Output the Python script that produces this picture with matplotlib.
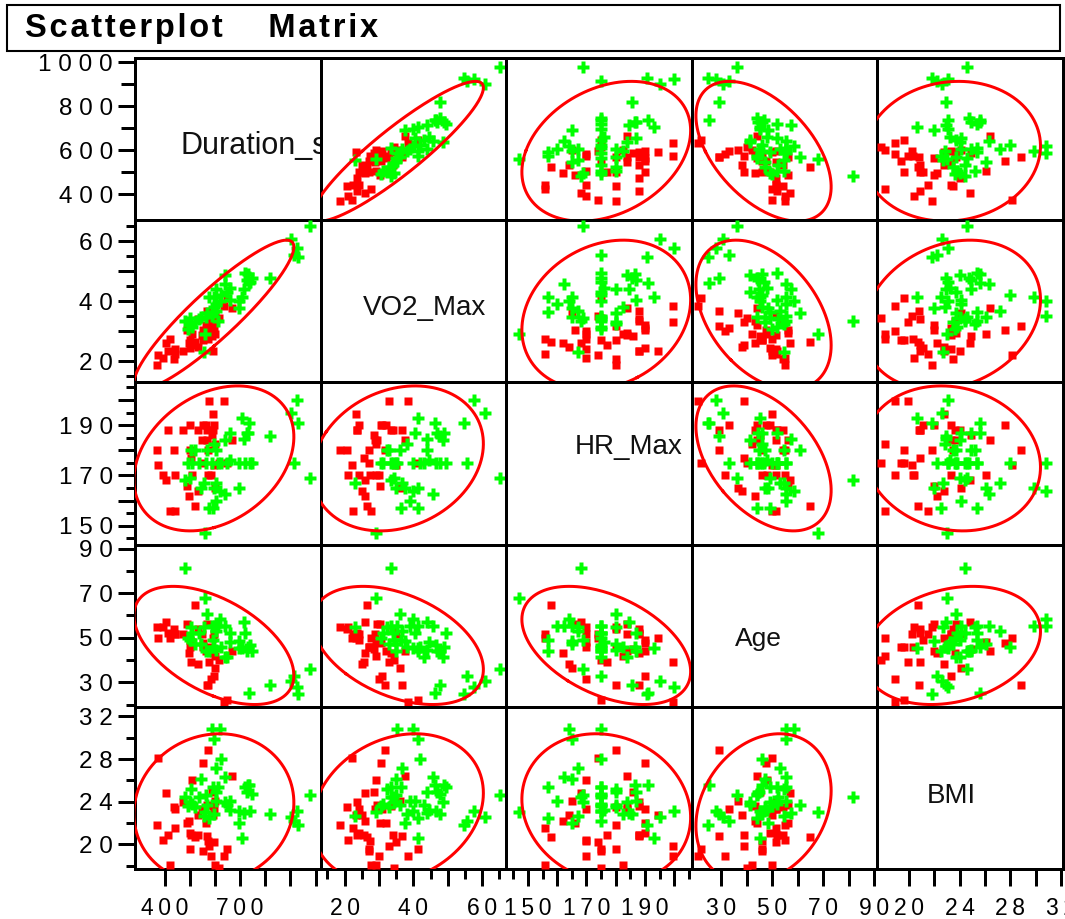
import numpy as np
import matplotlib
matplotlib.use("Agg")
import matplotlib.pyplot as plt
from matplotlib.patches import Rectangle

plt.rcParams['font.family'] = ['Liberation Sans', 'DejaVu Sans']

variables = ['Duration_s', 'VO2_Max', 'HR_Max', 'Age', 'BMI']

# ---- group 1 (red squares) ----
red_duration = [371, 374, 392, 406, 413, 423, 436, 443, 443, 474, 488, 497, 501, 501, 503, 508, 522, 531, 531, 549,
                552, 553, 563, 569, 569, 571, 572, 576, 583, 590, 593, 593, 596, 597, 600, 601, 617, 635, 647, 666]
red_vo2 = [18.7, 22.2, 21.0, 26.0, 23.5, 27.6, 20.7, 24.1, 22.5, 23.6, 30.4, 26.0, 24.3, 27.1, 25.5, 29.0, 26.5, 34.1, 24.9, 28.9,
           30.5, 27.0, 32.0, 36.8, 29.5, 31.8, 27.5, 33.0, 30.0, 28.5, 33.5, 23.3, 31.0, 35.0, 36.0, 29.0, 34.5, 38.5, 41.2, 37.7]
red_hr = [180, 174, 170, 168, 188, 156, 180, 170, 156, 188, 166, 162, 190, 180, 177, 170, 158, 188, 164, 184,
          190, 175, 190, 188, 184, 180, 170, 199.5, 170, 186, 188, 194.5, 190, 174, 165, 182.5, 175, 199.5, 175, 184]
red_age = [55, 50, 55, 57, 52, 50, 54, 51.5, 51.5, 51.5, 56, 43, 49, 46, 39, 48, 64.6, 54, 38, 51.5,
           47.6, 46, 44, 29, 56, 29, 46, 39, 31.5, 45, 43, 50, 33, 51.5, 36.6, 42, 40, 21, 22, 44]
red_bmi = [21.8, 28.1, 20.4, 24.8, 20.9, 18.1, 23.5, 23.3, 21.5, 24.0, 22.0, 22.2, 21.1, 19.6, 20.9, 26.05, 20.7, 20.9, 22.75, 23.3,
           27.6, 19.4, 22.0, 20.8, 23.7, 28.85, 20.3, 19.9, 18.9, 24.9, 23.6, 22.75, 23.3, 20.2, 24.1, 18.1, 17.8, 18.9, 19.6, 26.4]

# ---- group 2 (green plus) ----
green_duration = [481, 492, 499, 505, 508, 522, 535, 546, 556, 560, 563, 569, 576, 590, 593, 597, 597, 604, 604, 606,
                  611, 621, 624, 638, 641, 649, 658, 661, 694, 697, 706, 716, 720, 727, 730, 736, 740, 747, 819, 902,
                  915, 925, 929, 978]
green_vo2 = [33.5, 30.7, 34.4, 32.4, 31.3, 33.0, 34.0, 34.8, 23.0, 29.0, 34.8, 36.0, 41.4, 35.2, 36.3, 41.4, 38.0, 39.0, 44.0, 36.8,
             33.5, 40.0, 42.0, 48.7, 45.6, 43.0, 40.5, 44.5, 37.7, 40.0, 41.4, 44.0, 49.5, 47.0, 49.0, 46.2, 46.5, 47.8, 47.6, 60.9,
             55.5, 57.6, 54.7, 65.1]
green_hr = [168, 175, 169, 180, 175, 180, 175, 165, 167, 147, 175, 180, 157, 175, 157, 165, 182.5, 160, 180, 167,
            175, 164, 175, 184, 162.5, 175, 187, 176, 165, 175, 193, 184.5, 175, 187, 186.7, 191, 175, 175, 185.5, 195,
            175, 200, 190.7, 169]
green_age = [81.5, 50, 49, 54.6, 52, 47, 52.3, 47, 54.6, 68, 44, 60.7, 43.9, 55.4, 49.2, 55.4, 46, 55.4, 44.6, 53,
             55.4, 58.4, 46, 41.2, 55.4, 41.2, 52, 48, 48.4, 45.3, 45.3, 57.2, 52, 44.2, 46, 25, 46.9, 44, 28.9, 30.7,
             33, 27.7, 24.6, 36.1]
green_bmi = [24.45, 23.65, 24.0, 25.2, 23.8, 23.5, 24.45, 26.1, 22.7, 23.0, 24.6, 23.7, 22.5, 30.8, 25.4, 29.9, 22.85, 24.1, 24.9, 27.2,
             25.4, 30.8, 28.0, 24.0, 26.3, 23.7, 24.1, 23.2, 22.0, 23.1, 20.6, 22.95, 25.4, 24.9, 25.6, 25.6, 23.1, 24.7, 22.9, 22.6,
             22.2, 23.1, 21.8, 24.6]

# axis ranges
y_limits = [(282, 1020), (13.0, 67.0), (142.5, 207.0), (19.0, 91.8), (17.7, 32.9)]
x_limits = [(282, 1020), (13.0, 67.0), (142.6, 206.0), (18.4, 91.2), (17.5, 32.15)]

# y-axis ticks: (major values, labels, minor values)
y_major = [[400, 600, 800, 1000], [20, 30, 40, 50, 60], [150, 160, 170, 180, 190, 200], [30, 50, 70, 90], [20, 24, 28, 32]]
y_labels = [['400', '600', '800', '1000'], ['20', '', '40', '', '60'], ['150', '', '170', '', '190', ''],
            ['30', '50', '70', '90'], ['20', '24', '28', '32']]
y_minor = [[500, 700, 900], [15, 25, 35, 45, 55, 65], [145, 155, 165, 175, 185, 195, 205], [20, 40, 60, 80], [18, 22, 26, 30]]

x_major = [[400, 500, 600, 700, 800, 900, 1000], [20, 30, 40, 50, 60], [150, 160, 170, 180, 190, 200],
           [30, 40, 50, 60, 70, 80, 90], [20, 22, 24, 26, 28, 30, 32]]
x_labels = [['400', '', '', '700', '', '', ''], ['20', '', '40', '', '60'], ['150', '', '170', '', '190', ''],
            ['30', '', '50', '', '70', '', '90'], ['20', '', '24', '', '28', '', '32']]
x_minor = [[], [15, 25, 35, 45, 55, 65], [145, 155, 165, 175, 185, 195, 205], [], []]

# diagonal label placement (axes fraction), alignment, font size
diag_pos = [(0.246, 0.46, 'left', 22), (0.56, 0.46, 'center', 20), (0.66, 0.60, 'center', 20),
            (0.36, 0.42, 'center', 19), (0.40, 0.45, 'center', 20)]

RED = '#FF0000'
GREEN = '#00FF00'
px = 0.72  # points per pixel at dpi 100


def spaced(s, sep='\u2009'):
    return sep.join(list(s))


def ellipse_points(x, y, n=240, chi2=5.991, scale=1.05):
    data = np.vstack([x, y])
    mean = data.mean(axis=1)
    cov = np.cov(data)
    vals, vecs = np.linalg.eigh(cov)
    t = np.linspace(0, 2 * np.pi, n)
    circ = np.vstack([np.cos(t), np.sin(t)]) * np.sqrt(chi2) * scale
    pts = vecs @ (np.sqrt(vals)[:, None] * circ) + mean[:, None]
    return pts[0], pts[1]


red = [red_duration, red_vo2, red_hr, red_age, red_bmi]
green = [green_duration, green_vo2, green_hr, green_age, green_bmi]
allv = [list(map(float, r)) + list(map(float, g)) for r, g in zip(red, green)]

fig = plt.figure(figsize=(10.65, 9.19), dpi=100)
axes = fig.subplots(5, 5, gridspec_kw=dict(left=135 / 1065, right=1063 / 1065,
                                           top=1 - 58 / 919, bottom=1 - 869 / 919,
                                           wspace=0, hspace=0))

for i in range(5):          # row -> y variable
    for j in range(5):      # column -> x variable
        ax = axes[i, j]
        for sp in ax.spines.values():
            sp.set_linewidth(3 * px)
            sp.set_color('black')
        ax.set_xticks([])
        ax.set_yticks([])
        if i != j:
            ax.plot(red[j], red[i], linestyle='none', marker='s', ms=5.4,
                    color=RED, mec='none', zorder=3)
            ax.plot(green[j], green[i], linestyle='none', marker='P', ms=8.5,
                    color=GREEN, mec='none', zorder=3)
            ex, ey = ellipse_points(allv[j], allv[i])
            ax.plot(ex, ey, color=RED, lw=3 * px, zorder=4)
        else:
            fx, fy, ha, fs = diag_pos[i]
            ax.text(fx, fy, variables[i], transform=ax.transAxes, ha=ha, va='center',
                    fontsize=fs, color='#111111', clip_on=True)
        if j == 0:
            ax.set_yticks(y_major[i])
            ax.set_yticklabels([spaced(s, ' ') for s in y_labels[i]], fontsize=17.5)
            ax.set_yticks(y_minor[i], minor=True)
            ax.tick_params(axis='y', which='major', length=17 * px, width=3 * px, pad=5 * px, direction='out')
            minor_len = 14 * px if i == 0 else 9 * px
            ax.tick_params(axis='y', which='minor', length=minor_len, width=3 * px, direction='out')
        if i == 4:
            ax.set_xticks(x_major[j])
            ax.set_xticklabels([spaced(s) for s in x_labels[j]], fontsize=16.5)
            ax.set_xticks(x_minor[j], minor=True)
            ax.tick_params(axis='x', which='major', length=17 * px, width=3 * px, pad=11 * px, direction='out')
            ax.tick_params(axis='x', which='minor', length=10 * px, width=3 * px, direction='out')
        ax.set_xlim(*x_limits[j])
        ax.set_ylim(*y_limits[i])

# title box
fig.patches.append(Rectangle((7 / 1065, 1 - 51 / 919), (1060 - 7) / 1065, 46 / 919,
                             transform=fig.transFigure, fill=False, lw=1.5,
                             edgecolor='black'))
fig.text(25 / 1065, 1 - 29 / 919, spaced('Scatterplot', '\u200a') + '     ' + spaced('Matrix', '\u200a'),
         fontsize=23.5, fontweight='bold', ha='left', va='center')

fig.savefig('out.png', dpi=100)
